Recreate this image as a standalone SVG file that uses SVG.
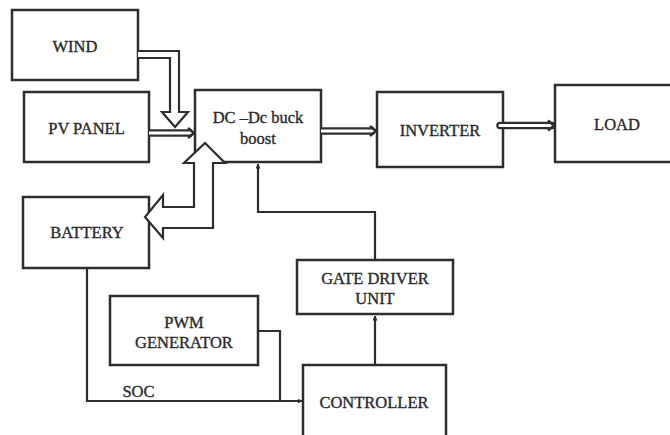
<svg xmlns="http://www.w3.org/2000/svg" width="670" height="435" viewBox="0 0 670 435">
  <style>
    .box { fill: #ffffff; stroke: #2e2e2e; stroke-width: 2.5; }
    .lbl { font-family: "Liberation Serif", "Times New Roman", serif; font-size: 16.5px; fill: #2a2a2a; stroke: #2a2a2a; stroke-width: 0.35; text-anchor: middle; }
    .wire { fill: none; stroke: #2e2e2e; stroke-width: 2.2; }
    .hollow { fill: #ffffff; stroke: #2e2e2e; stroke-width: 2.2; stroke-linejoin: miter; }
    .dbl-out { fill: none; stroke: #2e2e2e; stroke-width: 7.5; }
    .dbl-in { fill: none; stroke: #ffffff; stroke-width: 3; }
    .chev { fill: none; stroke: #2e2e2e; stroke-width: 2.5; }
  </style>
  <defs>
    <marker id="tip" viewBox="0 0 10 10" refX="9" refY="5" markerWidth="5" markerHeight="5" orient="auto" markerUnits="userSpaceOnUse">
      <path d="M0,0 L10,5 L0,10 Z" fill="#2e2e2e"/>
    </marker>
  </defs>

  <g id="wind"><rect class="box" x="12" y="10" width="126" height="70"/><text class="lbl" x="75" y="52">WIND</text></g>
  <g id="pv-panel"><rect class="box" x="24" y="92" width="125" height="70"/><text class="lbl" x="86.5" y="134">PV PANEL</text></g>
  <g id="dc-dc"><rect class="box" x="195" y="90" width="126" height="72"/><text class="lbl" x="258" y="123">DC –Dc buck</text><text class="lbl" x="258" y="144">boost</text></g>
  <g id="inverter"><rect class="box" x="377" y="92" width="126" height="75"/><text class="lbl" x="440" y="136">INVERTER</text></g>
  <g id="load"><rect class="box" x="555" y="85" width="120" height="77"/><text class="lbl" x="617" y="130">LOAD</text></g>
  <g id="battery"><rect class="box" x="23" y="197" width="126" height="71"/><text class="lbl" x="87" y="238">BATTERY</text></g>
  <g id="pwm-generator"><rect class="box" x="110" y="296" width="148" height="69"/><text class="lbl" x="184" y="328">PWM</text><text class="lbl" x="184" y="348">GENERATOR</text></g>
  <g id="gate-driver"><rect class="box" x="297" y="260" width="156" height="54"/><text class="lbl" x="375" y="284">GATE DRIVER</text><text class="lbl" x="375" y="304">UNIT</text></g>
  <g id="controller"><rect class="box" x="303" y="365" width="143" height="80"/><text class="lbl" x="374" y="408">CONTROLLER</text></g>

  <g id="connectors">
    <!-- wind: hollow block arrow down into the converter -->
    <path class="hollow" d="M138,51 H179 V112 H188 L175,127 L162,112 H170 V58 H138"/>
    <!-- pv panel to converter -->
    <path class="dbl-out" d="M149,133 H192"/>
    <path class="dbl-in" d="M149,133 H192"/>
    <path class="chev" d="M188,128 L194,133 L188,138"/>
    <!-- battery: two-way hollow arrow -->
    <path class="hollow" d="M184,163 H194 V207 H163 V195 L145,217 L163,238 V228 H213 V163 H225 L205,143 Z"/>
    <!-- converter to inverter -->
    <path class="dbl-out" d="M321,131 H374"/>
    <path class="dbl-in" d="M321,131 H374"/>
    <path class="chev" d="M370,126 L376,131 L370,136"/>
    <!-- inverter to load -->
    <path class="dbl-out" d="M500,125.5 H552" stroke-linecap="round"/>
    <path class="dbl-in" d="M500,125.5 H552" stroke-linecap="round"/>
    <path class="chev" d="M548,120.5 L554,125.5 L548,130.5"/>
    <!-- gate driver feedback to converter -->
    <path class="wire" d="M375,260 V212 H258 V164" marker-end="url(#tip)"/>
    <!-- controller to gate driver -->
    <path class="wire" d="M375,365 V316" marker-end="url(#tip)"/>
    <!-- battery state of charge to controller -->
    <path class="wire" d="M87,268 V401 H302" marker-end="url(#tip)"/>
    <!-- pwm generator to controller -->
    <path class="wire" d="M258,331 H280 V401"/>
    <text class="lbl" x="138.5" y="397">SOC</text>
  </g>
</svg>
